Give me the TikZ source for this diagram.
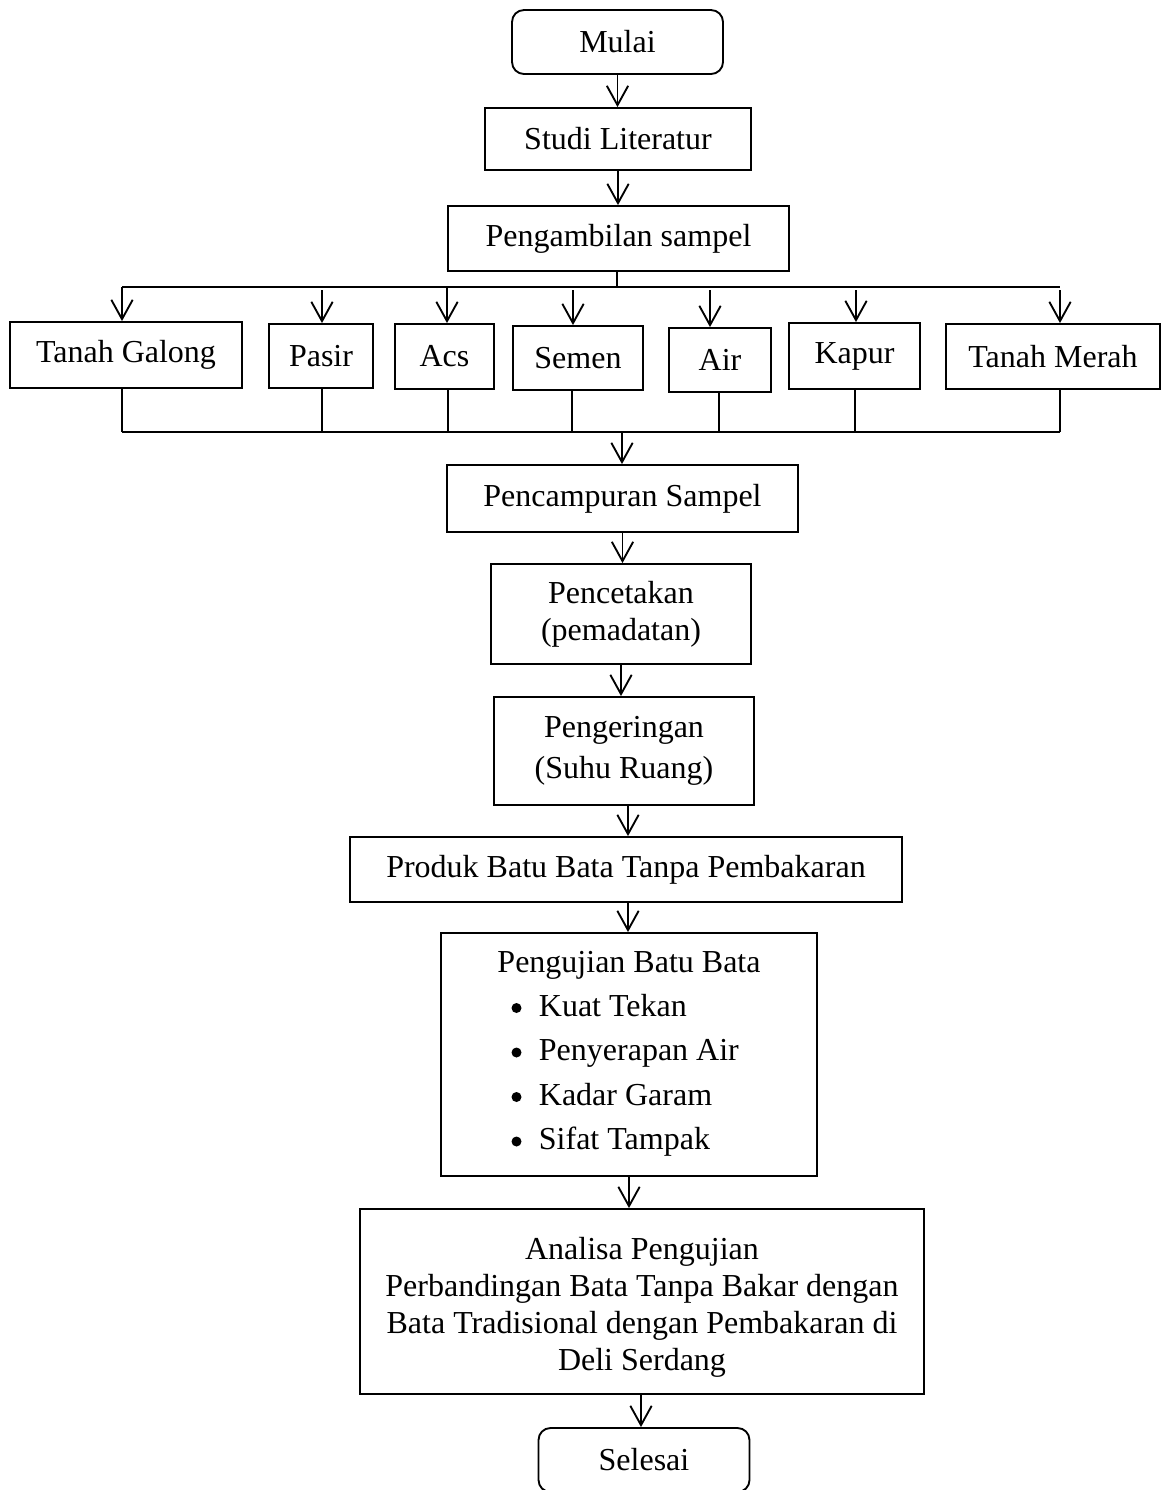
\documentclass[tikz,border=0pt]{standalone}
\usepackage{fontspec}
\setmainfont{Liberation Serif}
\usetikzlibrary{arrows.meta}
\begin{document}
\begin{tikzpicture}[x=0.75pt,y=-0.75pt, line width=1.4pt,
  font=\fontsize{24}{28}\selectfont,
  box/.style={draw, rectangle, inner sep=0pt, align=center},
  rbox/.style={box, rounded corners=9pt},
  wh/.style 2 args={minimum width=#1*0.75pt, minimum height=#2*0.75pt},
  arr/.style={-{Straight Barb[length=14.5pt,width=16pt]}},
  txt/.style={inner sep=0pt, anchor=base},
  dot/.style={circle, fill, inner sep=0pt, minimum size=7.5pt}]
\useasboundingbox (0,0) rectangle (1162,1490);

% main column
\node[rbox, wh={211}{64}] (mulai) at (617.5,42) {Mulai};
\node[box, wh={266}{62}] (studi) at (618,139) {Studi Literatur};
\node[box, wh={341}{65}] (samp) at (618.5,238.5) {Pengambilan sampel};

% materials
\node[box, wh={232}{66}] (tg) at (126,355) {Tanah Galong};
\node[box, wh={104}{64}] (pasir) at (321,356) {Pasir};
\node[box, wh={99}{65}] (acs) at (444.5,356.5) {Acs};
\node[box, wh={130}{64}] (semen) at (578,358) {Semen};
\node[box, wh={102}{64}] (air) at (720,360) {Air};
\node[box, wh={131}{66}] (kapur) at (854.5,356) {Kapur};
\node[box, wh={214}{65}] (tm) at (1053,356.5) {Tanah Merah};

\node[box, wh={351}{67}] (campur) at (622.5,498.5) {Pencampuran Sampel};
\node[box, wh={260}{100}, font=\fontsize{24}{27.75}\selectfont] (cetak) at (621,614) {Pencetakan\\(pemadatan)};
\node[box, wh={260}{108}, font=\fontsize{24}{30.75}\selectfont] (kering) at (624,751) {Pengeringan\\(Suhu Ruang)};
\node[box, wh={552}{65}] (produk) at (626,869.5) {Produk Batu Bata Tanpa Pembakaran};

\node[box, wh={376}{243}] (uji) at (629,1054.5) {};
\node[txt] (ujiT) at (629,972) {Pengujian Batu Bata};
\node[dot] (b1) at (516.5,1008) {};
\node[txt, anchor=base west] (k1) at (538,1016) {Kuat Tekan};
\node[dot] (b2) at (516.5,1052.5) {};
\node[txt, anchor=base west] (k2) at (538,1060.5) {Penyerapan Air};
\node[dot] (b3) at (516.5,1097) {};
\node[txt, anchor=base west] (k3) at (538,1105) {Kadar Garam};
\node[dot] (b4) at (516.5,1141.5) {};
\node[txt, anchor=base west] (k4) at (538,1149.5) {Sifat Tampak};

\node[box, wh={564}{185}] (analisa) at (642,1301.5) {};
\node[inner sep=0pt, align=center, font=\fontsize{24}{27.75}\selectfont] (analisaT) at (642,1307)
  {Analisa Pengujian\\Perbandingan Bata Tanpa Bakar dengan\\Bata Tradisional dengan Pembakaran di\\Deli Serdang};
\node[rbox, wh={211}{64}] (selesai) at (644,1460) {Selesai};

% main arrows
\draw[arr] (mulai.south) -- (mulai.south |- studi.north);
\draw[arr] (studi.south) -- (studi.south |- samp.north);

% top bus
\coordinate (stub) at (617,287);
\draw (samp.south -| stub) -- (stub);
\coordinate (busL) at (122,287);
\coordinate (busR) at (1060,287);
\draw (busL) -- (busR);
\coordinate (t1) at (122,287);
\coordinate (t2) at (322,290);
\coordinate (t3) at (447,287);
\coordinate (t4) at (573,290);
\coordinate (t5) at (710,290);
\coordinate (t6) at (856,290);
\coordinate (t7) at (1060,290);
\draw[arr] (t1) -- (t1 |- tg.north);
\draw[arr] (t2) -- (t2 |- pasir.north);
\draw[arr] (t3) -- (t3 |- acs.north);
\draw[arr] (t4) -- (t4 |- semen.north);
\draw[arr] (t5) -- (t5 |- air.north);
\draw[arr] (t6) -- (t6 |- kapur.north);
\draw[arr] (t7) -- (t7 |- tm.north);

% bottom bus
\coordinate (u1) at (122,432);
\coordinate (u2) at (322,432);
\coordinate (u3) at (448,432);
\coordinate (u4) at (572,432);
\coordinate (u5) at (719,432);
\coordinate (u6) at (855,432);
\coordinate (u7) at (1060,432);
\draw (tg.south -| u1) -- (u1);
\draw (pasir.south -| u2) -- (u2);
\draw (acs.south -| u3) -- (u3);
\draw (semen.south -| u4) -- (u4);
\draw (air.south -| u5) -- (u5);
\draw (kapur.south -| u6) -- (u6);
\draw (tm.south -| u7) -- (u7);
\draw (u1) -- (u7);
\coordinate (mix) at (622,432);
\draw[arr] (mix) -- (mix |- campur.north);

\draw[arr] (campur.south) -- (campur.south |- cetak.north);
\draw[arr] (cetak.south) -- (cetak.south |- kering.north);
\coordinate (k2p) at (628,805);
\draw[arr] (kering.south -| k2p) -- (k2p |- produk.north);
\coordinate (p2u) at (628,902);
\draw[arr] (produk.south -| p2u) -- (p2u |- uji.north);
\draw[arr] (uji.south) -- (uji.south |- analisa.north);
\coordinate (a2s) at (641,1396);
\draw[arr] (analisa.south -| a2s) -- (a2s |- selesai.north);
\end{tikzpicture}
\end{document}
